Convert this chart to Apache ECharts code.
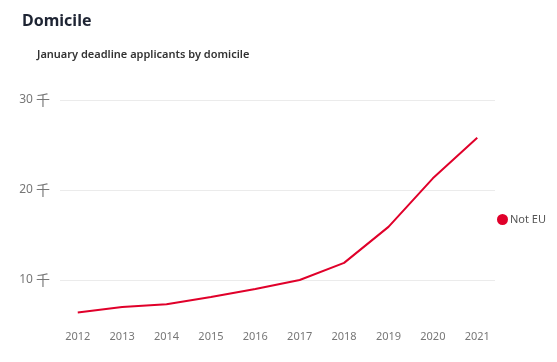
<!DOCTYPE html>
<html>
<head>
<meta charset="utf-8">
<script src="https://cdn.jsdelivr.net/npm/echarts@6/dist/echarts.min.js"></script>
<style>html,body{margin:0;padding:0;background:#fff}#c{width:557px;height:362px}</style>
</head>
<body>
<div id="c"></div>
<script>
const years = [2012, 2013, 2014, 2015, 2016, 2017, 2018, 2019, 2020, 2021];
const notEU = [6400, 7000, 7300, 8100, 9000, 10000, 11900, 15900, 21300, 25800];
const yTicks = [10000, 20000, 30000];
const seriesName = 'Not EU';

const chart = echarts.init(document.getElementById('c'), null, {renderer: 'canvas'});
chart.setOption({
  animation: false,
  title: [{
    text: 'Domicile', left: 17, top: 8,
    textStyle: {fontFamily: 'Noto Sans', fontSize: 16, fontWeight: 'bold', color: '#1e2433'}
  }, {
    text: 'January deadline applicants by domicile', left: 32, top: 44,
    textStyle: {fontFamily: 'Noto Sans', fontSize: 11, fontWeight: 600, color: '#333'}
  }],
  legend: {
    data: [{name: seriesName, icon: 'circle'}],
    orient: 'vertical', left: 492, top: 209,
    itemWidth: 11, itemHeight: 11,
    textStyle: {fontFamily: 'Noto Sans', fontSize: 11, color: '#555', padding: [0, 0, 0, -3]}
  },
  grid: {left: 60, right: 62, top: 100, bottom: 37},
  xAxis: {
    type: 'value', min: 2011.6, max: 2021.4,
    axisLine: {show: false}, axisTick: {show: false}, splitLine: {show: false},
    axisLabel: {
      customValues: years, margin: 6,
      formatter: v => String(v),
      fontFamily: 'Noto Sans', fontSize: 11, color: '#777'
    }
  },
  yAxis: {
    type: 'value', min: 5000, max: 30000, interval: 5000,
    axisLine: {show: false}, axisTick: {show: false},
    splitLine: {lineStyle: {color: ['transparent', '#ebebeb'], width: 1}},
    axisLabel: {
      margin: 10,
      formatter: v => (yTicks.indexOf(v) >= 0 ? '{n|' + (v / 1000) + '} {k|千}' : ''),
      rich: {
        n: {fontFamily: 'Noto Sans', fontSize: 12, color: '#777'},
        k: {fontFamily: 'Noto Sans CJK SC', fontSize: 14, color: '#777'}
      },
      fontFamily: 'Noto Sans', fontSize: 12, color: '#777'
    }
  },
  series: [{
    name: seriesName, type: 'line',
    data: years.map((y, i) => [y, notEU[i]]),
    showSymbol: false, symbol: 'circle',
    itemStyle: {color: '#e0002a'},
    lineStyle: {color: '#e0002a', width: 2}
  }]
});
</script>
</body>
</html>
